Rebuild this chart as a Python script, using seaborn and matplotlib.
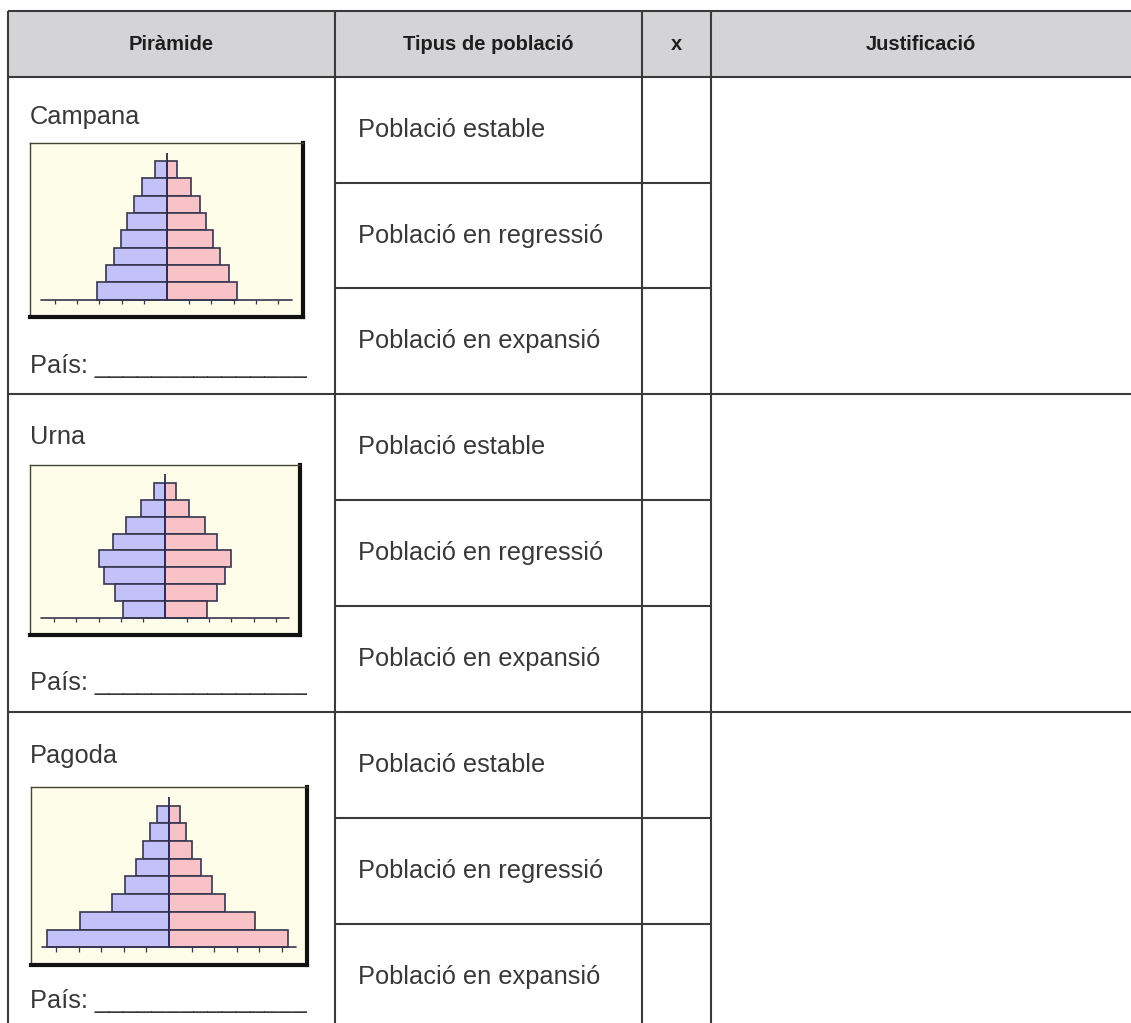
import matplotlib
matplotlib.use('Agg')
import matplotlib.pyplot as plt
from matplotlib.patches import Rectangle
import numpy as np
import pandas as pd
import seaborn as sns

sns.set_style('white')
plt.rcParams['font.family'] = ['Liberation Sans', 'DejaVu Sans']

W, H = 1131, 1023

# table text
headers = ['Piràmide', 'Tipus de població', 'x', 'Justificació']
shapes = ['Campana', 'Urna', 'Pagoda']
pop_types = ['Població estable', 'Població en regressió', 'Població en expansió']
country_label = 'País: _______________'

# pyramid bars, youngest (bottom) to oldest (top), in axis tick units
ages = ['0-9', '10-19', '20-29', '30-39', '40-49', '50-59', '60-69', '70+']
campana_m = [3.10, 2.70, 2.35, 2.05, 1.75, 1.45, 1.10, 0.50]
campana_f = [3.15, 2.80, 2.40, 2.10, 1.75, 1.50, 1.08, 0.48]
urna_m = [1.90, 2.27, 2.77, 2.97, 2.36, 1.75, 1.07, 0.49]
urna_f = [1.90, 2.33, 2.71, 2.98, 2.33, 1.80, 1.08, 0.50]
pagoda_m = [5.41, 3.93, 2.54, 1.94, 1.47, 1.15, 0.84, 0.51]
pagoda_f = [5.26, 3.82, 2.47, 1.88, 1.40, 1.00, 0.76, 0.47]
pyramids = [(campana_m, campana_f), (urna_m, urna_f), (pagoda_m, pagoda_f)]

# layout in pixels
col_x = [8, 335, 642, 711, W]
head_top, head_bot = 11, 77
sec_y = [77, 394, 712, 1030]
name_dy = [40, 43, 44]
box_px = [(30, 143, 303, 317), (30, 465, 300, 635), (31, 787, 307, 965)]

line_c = '#3a3a3a'
text_c = '#383838'

fig = plt.figure(figsize=(W / 100, H / 100), dpi=100)
ax = fig.add_axes([0, 0, 1, 1])
ax.set_xlim(0, W)
ax.set_ylim(H, 0)
ax.axis('off')

# header
ax.add_patch(Rectangle((col_x[0], head_top), W - col_x[0], head_bot - head_top,
                       facecolor='#d4d4d6', edgecolor='none'))
for i, h in enumerate(headers):
    ax.text((col_x[i] + col_x[i + 1]) / 2, (head_top + head_bot) / 2 + 1, h,
            ha='center', va='center', fontsize=14.5, fontweight='bold', color='#1e1e1e')

lw = 1.5
ax.hlines([head_top, head_bot], col_x[0], W, color=line_c, lw=lw)
ax.hlines(sec_y[1:3], col_x[0], W, color=line_c, lw=lw)
ax.vlines(col_x[:4], head_top, H + 5, color=line_c, lw=lw)

for s, name in enumerate(shapes):
    top, bot = sec_y[s], sec_y[s + 1]
    sub = (bot - top) / 3
    ax.text(30, top + name_dy[s], name, ha='left', va='center', fontsize=18.3, color=text_c)
    ax.text(30, top + 289, country_label, ha='left', va='center', fontsize=18.3, color=text_c)
    for k, t in enumerate(pop_types):
        ax.text(358, top + sub * (k + 0.5), t, ha='left', va='center',
                fontsize=18.3, color=text_c)
    ax.hlines([top + sub, top + 2 * sub], col_x[1], col_x[3], color=line_c, lw=lw)

# pyramids
blue, pink = '#c2c2f8', '#f9c2c6'
edge = '#363650'
ticks = [t for t in range(-5, 6) if t != 0]
for (m, f), (x0, y0, x1, y1) in zip(pyramids, box_px):
    pax = fig.add_axes([x0 / W, 1 - y1 / H, (x1 - x0) / W, (y1 - y0) / H])
    pax.set_facecolor('#fdfde9')
    df = pd.DataFrame({
        'age': ages * 2,
        'sex': ['M'] * len(ages) + ['F'] * len(ages),
        'value': [-v for v in m] + list(f),
    })
    sns.barplot(data=df, x='value', y='age', hue='sex', order=ages[::-1],
                palette={'M': blue, 'F': pink}, dodge=False, width=1.0,
                saturation=1, edgecolor=edge, linewidth=1.2, legend=False, ax=pax)
    pax.plot([-5.6, 5.6], [7.5, 7.5], color=edge, lw=1.2)
    pax.vlines(ticks, 7.5, 7.75, color=edge, lw=0.9)
    pax.vlines(0, -1.0, 7.5, color='#2c2c58', lw=1.3)
    pax.set_xlim(-6.1, 6.1)
    pax.set_ylim(8.5, -1.55)
    pax.set_xticks([])
    pax.set_yticks([])
    pax.set_xlabel('')
    pax.set_ylabel('')
    for side in ['top', 'left']:
        pax.spines[side].set_color('#444433')
        pax.spines[side].set_linewidth(1.0)
    for side in ['right', 'bottom']:
        pax.spines[side].set_color('#111111')
        pax.spines[side].set_linewidth(3.0)

fig.savefig('out.png', dpi=100)
